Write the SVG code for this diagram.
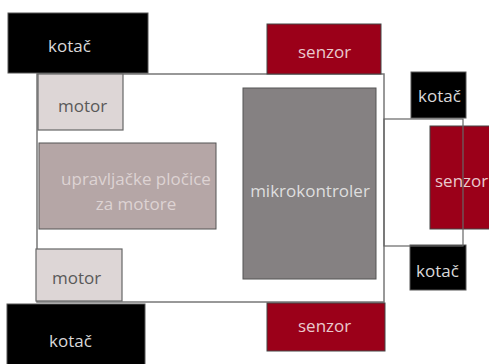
<svg xmlns="http://www.w3.org/2000/svg" width="489" height="364" viewBox="0 0 489 364">
<style>
text{font-family:"Open Sans","Noto Sans",sans-serif;font-size:17px}
.k{fill:#000;stroke:#555;stroke-width:1}
.kt{fill:#d9d9d9}
.s{fill:#9b0019;stroke:#444;stroke-width:1}
.st{fill:#e9c9cd}
.m{fill:#ddd6d6;stroke:#666;stroke-width:1.2}
.mt{fill:#595959}
.o{fill:none;stroke:#666;stroke-width:1.2}
</style>
<rect width="489" height="364" fill="#fff"/>
<g id="body"><rect x="37" y="74" width="347" height="228" fill="#fff" stroke="#777" stroke-width="1.5"/></g>
<g id="kotac1"><rect class="k" x="8" y="13" width="140" height="60"/><text class="kt" x="48" y="52">kotač</text></g>
<g id="kotac2"><rect class="k" x="7" y="304" width="138" height="62"/><text class="kt" x="49" y="347">kotač</text></g>
<g id="motor1"><rect class="m" x="38" y="74" width="85" height="56"/><text class="mt" x="58" y="112">motor</text></g>
<g id="motor2"><rect class="m" x="36" y="249" width="86" height="52"/><text class="mt" x="52" y="284">motor</text></g>
<g id="upravljacke"><rect x="39" y="143" width="177" height="86" fill="#b5a6a6" stroke="#555" stroke-width="1"/><text fill="#ddd3d3" x="136" y="185" text-anchor="middle">upravljačke pločice</text><text fill="#ddd3d3" x="136" y="210" text-anchor="middle">za motore</text></g>
<g id="mikrokontroler"><rect x="243" y="88" width="133" height="191" fill="#858182" stroke="#555" stroke-width="1"/><text fill="#dedede" x="310" y="197" text-anchor="middle" font-size="16.8">mikrokontroler</text></g>
<g id="senzor1"><rect class="s" x="267" y="24" width="114" height="50"/><text class="st" x="298" y="58">senzor</text></g>
<g id="senzor2"><rect class="s" x="267" y="303" width="118" height="48"/><text class="st" x="298" y="332">senzor</text></g>
<g id="kotac3"><rect class="k" x="411" y="72" width="55" height="46"/><text class="kt" x="418" y="102">kotač</text></g>
<g id="kotac4"><rect class="k" x="410" y="245" width="56" height="45"/><text class="kt" x="416" y="277">kotač</text></g>
<g id="senzor3"><rect class="s" x="430" y="126" width="62" height="103"/><text class="st" x="435" y="187">senzor</text></g>
<g id="connectors"><rect class="o" x="384" y="119" width="79" height="127"/></g>
</svg>
